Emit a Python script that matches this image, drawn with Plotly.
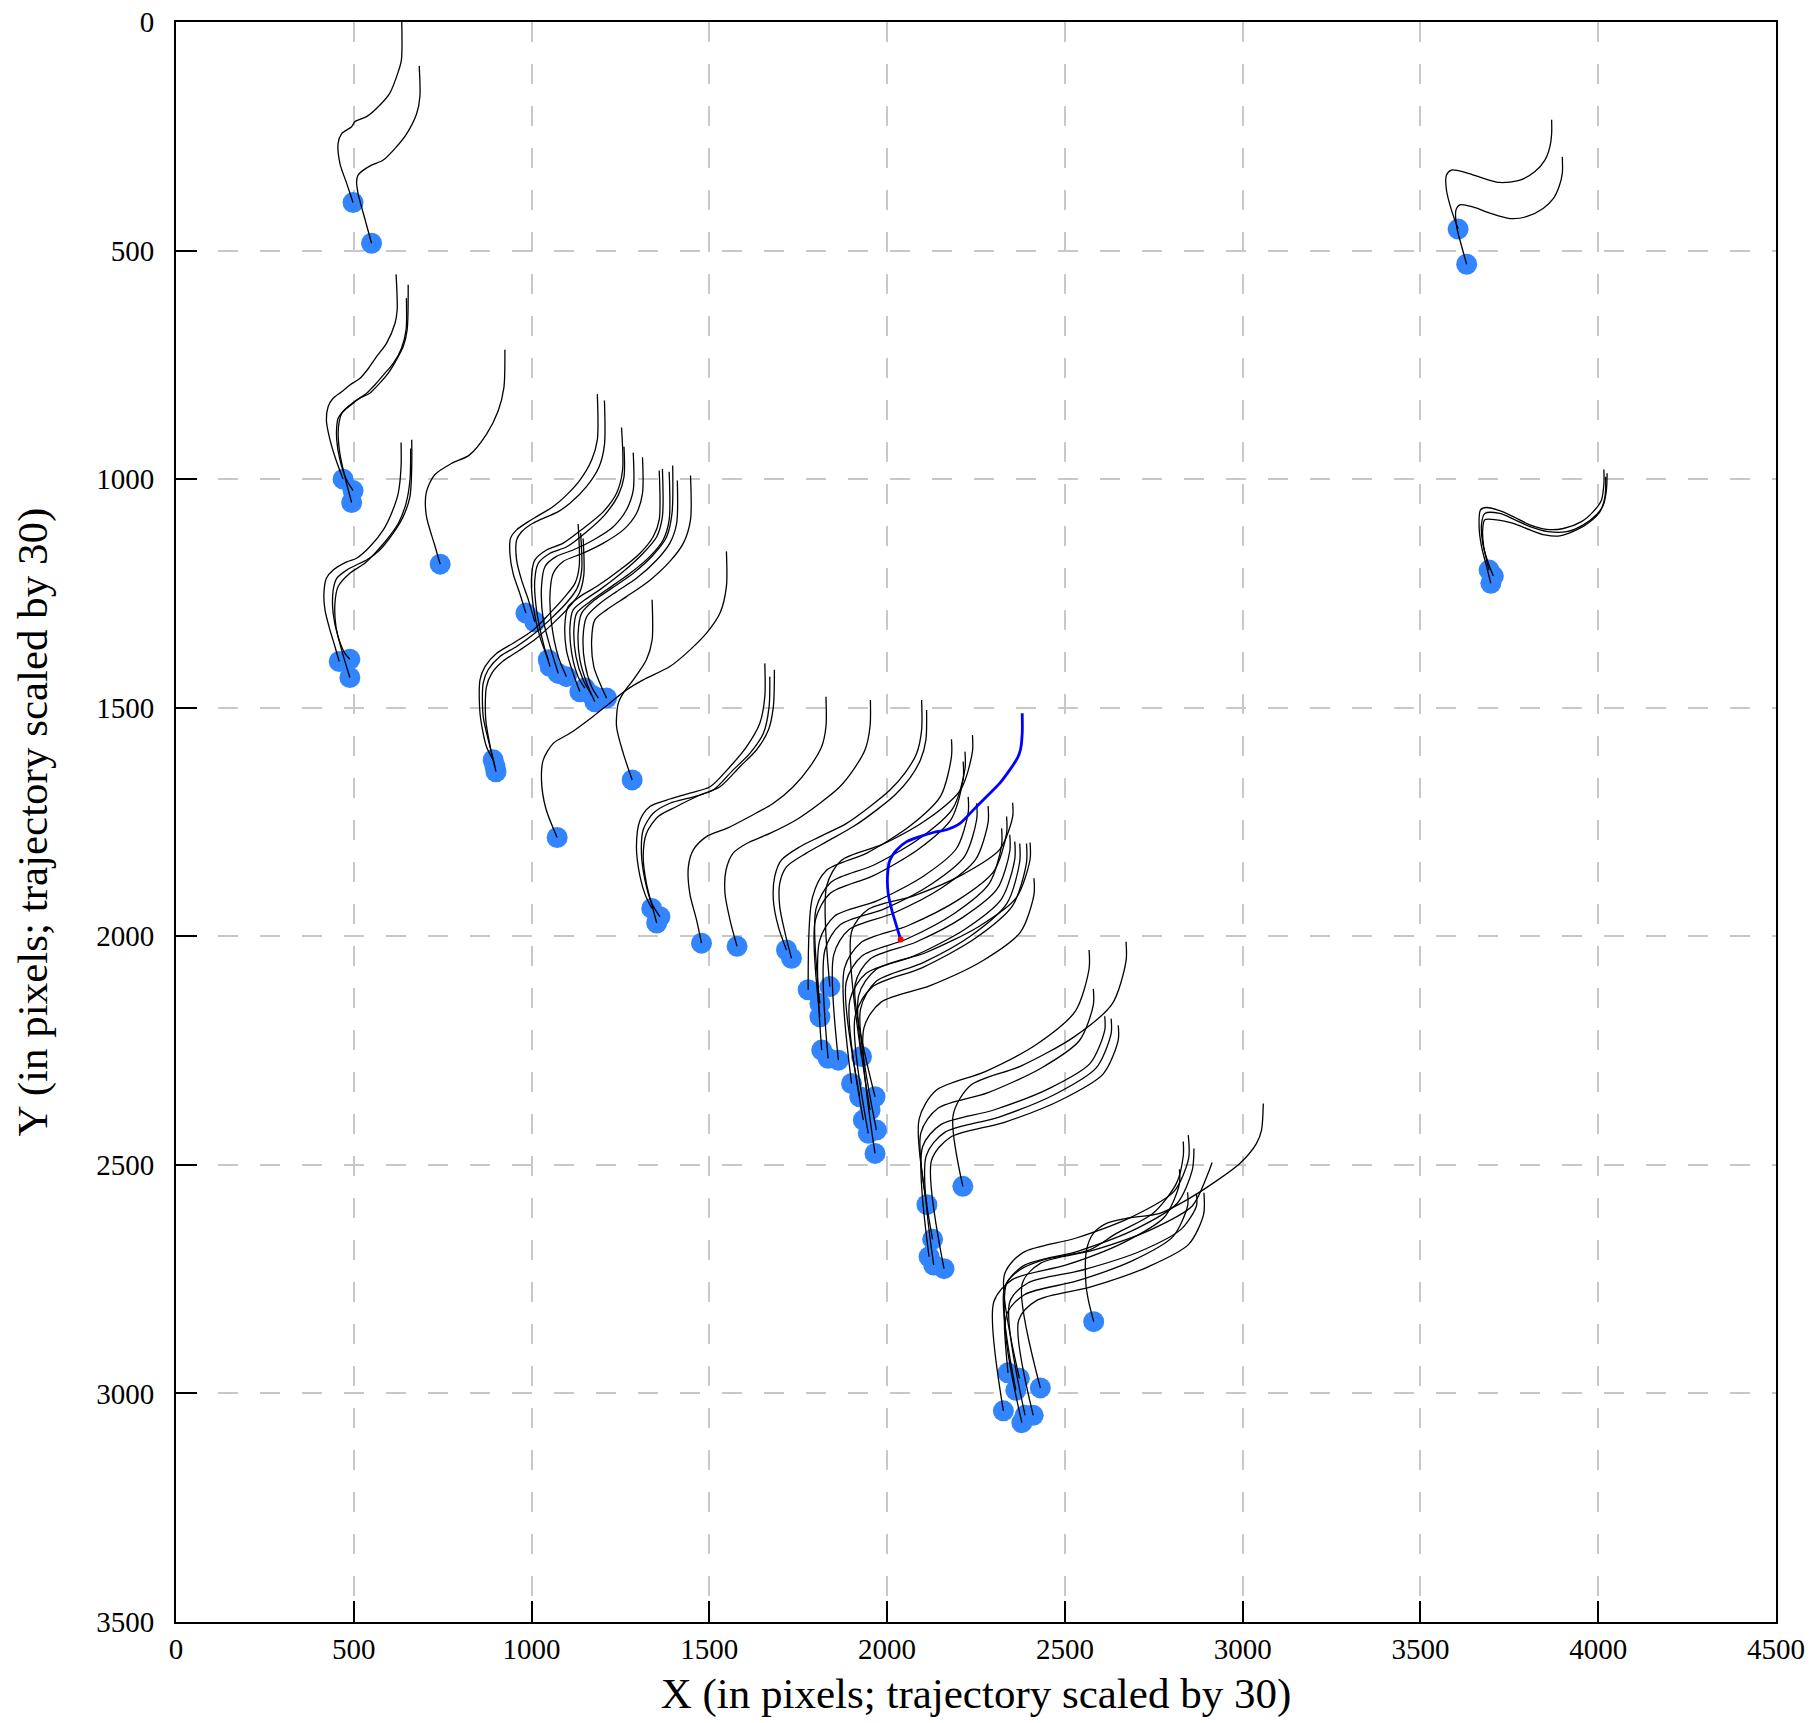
import plotly.graph_objects as go

X_TICKS = [0, 500, 1000, 1500, 2000, 2500, 3000, 3500, 4000, 4500]
Y_TICKS = [0, 500, 1000, 1500, 2000, 2500, 3000, 3500]
X_TITLE = "X (in pixels; trajectory scaled by 30)"
Y_TITLE = "Y (in pixels; trajectory scaled by 30)"

# Each trajectory is a list of (x, y) points; the last point is where the agent stands (blue dot)
CLUSTER_A = [
    [(634, -30), (634, 83), (625, 109), (601, 156), (573, 182), (536, 207), (503, 218), (494, 229),
     (466, 244), (456, 265), (461, 309), (480, 353), (498, 395)],
    [(684, 96), (686, 163), (677, 200), (649, 244), (620, 273), (583, 302), (550, 313), (527, 324),
     (512, 335), (508, 349), (512, 375), (527, 419), (550, 484)],
]
CLUSTER_B = [
    [(619, 552), (622, 630), (616, 659), (592, 703), (564, 732), (541, 758), (517, 780), (489, 794),
     (466, 809), (442, 823), (428, 841), (423, 871), (431, 907), (447, 951), (470, 1000)],
    [(653, 575), (650, 674), (639, 710), (620, 739), (597, 768), (573, 790), (545, 812), (517, 823),
     (498, 834), (470, 852), (456, 867), (452, 885), (452, 914), (461, 958), (480, 1002), (498, 1025)],
    [(648, 604), (647, 674), (634, 714), (611, 747), (588, 768), (559, 794), (536, 812), (508, 827),
     (484, 841), (466, 856), (459, 874), (456, 900), (461, 944), (475, 995), (494, 1051)],
]
CLUSTER_C = [
    [(633, 920), (633, 973), (625, 1031), (606, 1075), (583, 1111), (545, 1148), (508, 1173), (480, 1181),
     (442, 1199), (423, 1217), (416, 1250), (419, 1286), (433, 1330), (447, 1366), (459, 1399)],
    [(663, 914), (663, 973), (658, 1038), (639, 1082), (611, 1118), (573, 1155), (536, 1177), (517, 1184),
     (480, 1199), (452, 1217), (442, 1243), (442, 1294), (456, 1345), (475, 1381), (489, 1394)],
    [(660, 933), (658, 1002), (647, 1053), (625, 1097), (588, 1137), (550, 1170), (531, 1184), (489, 1206),
     (456, 1235), (447, 1272), (450, 1323), (466, 1374), (489, 1434)],
]
CLUSTER_D = [
    [(925, 717), (922, 801), (906, 851), (873, 902), (824, 948), (776, 965), (727, 991), (704, 1029),
     (704, 1080), (727, 1143), (743, 1186)],
]
CLUSTER_E = [
    [(3869, 214), (3869, 244), (3864, 273), (3850, 302), (3822, 327), (3780, 346), (3723, 351), (3677, 342),
     (3630, 330), (3587, 324), (3573, 335), (3573, 367), (3587, 411), (3606, 453)],
    [(3899, 295), (3899, 331), (3890, 360), (3874, 386), (3845, 408), (3798, 426), (3752, 430), (3695, 418),
     (3649, 405), (3611, 400), (3600, 411), (3602, 448), (3616, 491), (3630, 530)],
]
CLUSTER_F = [
    [(4016, 979), (4016, 1009), (4009, 1046), (3986, 1071), (3953, 1093), (3902, 1108), (3855, 1110),
     (3808, 1100), (3761, 1082), (3723, 1069), (3686, 1062), (3669, 1067), (3665, 1104), (3672, 1148),
     (3686, 1191), (3698, 1228)],
    [(4025, 987), (4023, 1024), (4014, 1057), (3995, 1078), (3958, 1100), (3911, 1115), (3859, 1115),
     (3808, 1104), (3766, 1089), (3723, 1075), (3681, 1075), (3672, 1097), (3675, 1140), (3691, 1184),
     (3705, 1212)],
    [(4021, 995), (4019, 1038), (4005, 1071), (3977, 1093), (3939, 1111), (3892, 1124), (3850, 1122),
     (3808, 1111), (3761, 1097), (3714, 1089), (3681, 1089), (3675, 1111), (3678, 1148), (3686, 1177),
     (3693, 1199)],
]
CLUSTER_G = [
    [(1185, 814), (1185, 914), (1169, 958), (1136, 1002), (1098, 1035), (1061, 1060), (1014, 1082),
     (991, 1093), (958, 1111), (941, 1129), (939, 1162), (948, 1206), (967, 1250), (984, 1293)],
    [(1205, 828), (1205, 925), (1190, 973), (1155, 1016), (1108, 1053), (1075, 1071), (1023, 1089),
     (1000, 1098), (972, 1115), (958, 1133), (958, 1177), (972, 1221), (991, 1264), (1009, 1312)],
    [(1253, 887), (1256, 980), (1239, 1031), (1202, 1071), (1145, 1108), (1089, 1140), (1042, 1155),
     (1009, 1177), (1000, 1213), (1005, 1279), (1023, 1344), (1047, 1395)],
    [(1260, 929), (1260, 995), (1244, 1035), (1206, 1078), (1155, 1115), (1099, 1148), (1052, 1162),
     (1019, 1184), (1009, 1221), (1014, 1286), (1033, 1359), (1052, 1410)],
    [(1286, 942), (1286, 1024), (1267, 1067), (1230, 1104), (1174, 1133), (1117, 1155), (1070, 1169),
     (1038, 1191), (1028, 1235), (1033, 1308), (1052, 1366), (1075, 1425)],
    [(1312, 952), (1312, 1031), (1295, 1075), (1258, 1111), (1202, 1140), (1145, 1162), (1089, 1180),
     (1061, 1206), (1052, 1250), (1056, 1315), (1075, 1388), (1098, 1432)],
    [(1359, 981), (1359, 1089), (1342, 1126), (1305, 1162), (1248, 1199), (1183, 1235), (1136, 1257),
     (1103, 1279), (1094, 1315), (1098, 1374), (1117, 1425), (1136, 1465)],
    [(1368, 978), (1368, 1082), (1352, 1126), (1314, 1162), (1258, 1202), (1197, 1239), (1150, 1264),
     (1117, 1286), (1108, 1323), (1113, 1381), (1131, 1432), (1150, 1457)],
    [(1387, 984), (1387, 1089), (1370, 1133), (1333, 1169), (1277, 1206), (1211, 1242), (1164, 1268),
     (1127, 1293), (1119, 1330), (1125, 1388), (1145, 1439), (1169, 1472)],
    [(1397, 970), (1395, 1075), (1380, 1126), (1342, 1166), (1286, 1206), (1225, 1239), (1178, 1264),
     (1141, 1293), (1131, 1337), (1136, 1395), (1155, 1446), (1178, 1487)],
    [(1410, 1003), (1408, 1097), (1389, 1140), (1352, 1177), (1295, 1217), (1239, 1246), (1192, 1272),
     (1155, 1301), (1145, 1344), (1150, 1403), (1169, 1454), (1188, 1479)],
    [(1447, 992), (1447, 1089), (1427, 1140), (1389, 1180), (1333, 1221), (1267, 1257), (1211, 1286),
     (1178, 1308), (1169, 1352), (1175, 1410), (1192, 1446), (1211, 1479)],
]
CLUSTER_H = [
    [(1131, 1098), (1134, 1191), (1122, 1228), (1094, 1257), (1052, 1293), (1005, 1330), (948, 1359),
     (902, 1381), (869, 1410), (855, 1439), (855, 1512), (873, 1585), (892, 1614)],
    [(1138, 1118), (1141, 1199), (1128, 1239), (1098, 1271), (1056, 1304), (1009, 1337), (958, 1366),
     (911, 1388), (878, 1417), (864, 1446), (864, 1519), (883, 1585), (900, 1640)],
    [(1145, 1130), (1147, 1210), (1134, 1250), (1103, 1282), (1061, 1315), (1014, 1348), (965, 1375),
     (920, 1398), (888, 1425), (873, 1455), (871, 1525), (885, 1590), (897, 1628)],
]
CLUSTER_I = [
    [(1339, 1264), (1339, 1352), (1323, 1395), (1286, 1439), (1258, 1468), (1244, 1490), (1239, 1541),
     (1258, 1600), (1283, 1658)],
]
CLUSTER_K = [
    [(1548, 1158), (1548, 1235), (1530, 1293), (1492, 1337), (1445, 1374), (1389, 1410), (1314, 1439),
     (1267, 1461), (1220, 1490), (1173, 1519), (1108, 1556), (1061, 1578), (1033, 1614), (1028, 1660),
     (1040, 1720), (1072, 1784)],
]
CLUSTER_L = [
    [(1656, 1403), (1656, 1476), (1642, 1534), (1605, 1585), (1558, 1629), (1502, 1673), (1445, 1687),
     (1380, 1702), (1333, 1716), (1305, 1746), (1295, 1804), (1305, 1869), (1320, 1910), (1338, 1939)],
    [(1670, 1432), (1668, 1498), (1652, 1556), (1614, 1600), (1567, 1636), (1511, 1680), (1455, 1695),
     (1389, 1709), (1342, 1731), (1314, 1767), (1309, 1818), (1319, 1877), (1338, 1928), (1361, 1957)],
    [(1683, 1417), (1680, 1498), (1666, 1549), (1633, 1592), (1586, 1629), (1530, 1673), (1474, 1691),
     (1408, 1716), (1356, 1738), (1323, 1775), (1314, 1826), (1323, 1884), (1342, 1942), (1352, 1971)],
]
CLUSTER_M = [
    [(1828, 1476), (1828, 1541), (1816, 1585), (1783, 1629), (1736, 1673), (1680, 1709), (1614, 1738),
     (1549, 1764), (1492, 1782), (1455, 1811), (1441, 1848), (1445, 1906), (1464, 1964), (1478, 2015)],
]
CLUSTER_N = [
    [(1953, 1483), (1952, 1541), (1938, 1592), (1905, 1636), (1867, 1673), (1811, 1709), (1745, 1745),
     (1670, 1775), (1605, 1797), (1567, 1818), (1547, 1855), (1544, 1906), (1558, 1964), (1578, 2022)],
]
CLUSTER_O = [
    [(2097, 1483), (2097, 1549), (2083, 1600), (2050, 1643), (2008, 1680), (1952, 1716), (1886, 1753),
     (1811, 1782), (1755, 1804), (1703, 1833), (1684, 1869), (1680, 1920), (1694, 1979), (1717, 2030)],
    [(2111, 1505), (2109, 1571), (2094, 1614), (2064, 1654), (2022, 1691), (1970, 1724), (1905, 1760),
     (1830, 1793), (1773, 1818), (1717, 1848), (1698, 1884), (1698, 1935), (1713, 1993), (1731, 2048)],
]
CLUSTER_P = [
    [(2181, 1569), (2181, 1607), (2150, 1694), (2064, 1759), (1943, 1818), (1829, 1856), (1790, 1915), (1778, 2117)],
    [(2240, 1560), (2240, 1596), (2207, 1679), (2117, 1742), (1990, 1798), (1871, 1834), (1830, 1890), (1839, 2110)],
    [(2219, 1596), (2219, 1634), (2185, 1720), (2093, 1785), (1963, 1844), (1842, 1882), (1800, 1940), (1811, 2147)],
    [(2214, 1618), (2214, 1656), (2181, 1743), (2089, 1809), (1960, 1868), (1840, 1906), (1798, 1965), (1811, 2176)],
    [(2228, 1695), (2228, 1730), (2195, 1808), (2103, 1868), (1973, 1922), (1852, 1956), (1810, 2010), (1816, 2249)],
    [(2353, 1708), (2353, 1739), (2317, 1810), (2217, 1863), (2077, 1911), (1945, 1942), (1900, 1990), (1928, 2263)],
    [(2252, 1709), (2252, 1744), (2218, 1825), (2124, 1886), (1992, 1940), (1868, 1975), (1825, 2030), (1834, 2267)],
    [(2284, 1715), (2284, 1751), (2249, 1832), (2154, 1894), (2019, 1949), (1893, 1985), (1850, 2040), (1863, 2271)],
    [(2336, 1738), (2336, 1775), (2300, 1858), (2199, 1921), (2058, 1977), (1926, 2014), (1880, 2070), (1900, 2322)],
    [(2322, 1764), (2322, 1801), (2287, 1885), (2191, 1949), (2055, 2006), (1929, 2043), (1885, 2100), (1923, 2351)],
    [(2345, 1778), (2345, 1814), (2310, 1896), (2214, 1958), (2080, 2013), (1953, 2049), (1910, 2105), (1966, 2351)],
    [(2402, 1795), (2402, 1832), (2363, 1916), (2257, 1979), (2108, 2036), (1968, 2073), (1920, 2130), (1952, 2380)],
    [(2359, 1793), (2359, 1831), (2322, 1918), (2220, 1984), (2076, 2043), (1941, 2081), (1895, 2140), (1933, 2402)],
    [(2373, 1797), (2373, 1837), (2337, 1928), (2239, 1997), (2100, 2058), (1970, 2098), (1925, 2160), (1970, 2424)],
    [(2392, 1797), (2392, 1839), (2353, 1933), (2247, 2005), (2098, 2069), (1958, 2111), (1910, 2175), (1947, 2431)],
    [(2413, 1873), (2413, 1909), (2375, 1991), (2270, 2053), (2121, 2108), (1983, 2144), (1935, 2200), (1966, 2475)],
]
CLUSTER_Q = [
    [(2568, 2030), (2568, 2071), (2530, 2163), (2425, 2234), (2276, 2296), (2138, 2337), (2090, 2400), (2112, 2587)],
    [(2580, 2115), (2580, 2150), (2541, 2228), (2434, 2288), (2284, 2342), (2143, 2376), (2095, 2430), (2128, 2663)],
    [(2612, 2175), (2612, 2206), (2571, 2278), (2458, 2332), (2300, 2380), (2151, 2412), (2100, 2460), (2118, 2701)],
    [(2630, 2180), (2630, 2213), (2588, 2288), (2474, 2345), (2313, 2396), (2162, 2429), (2110, 2480), (2131, 2719)],
    [(2650, 2195), (2650, 2227), (2608, 2301), (2492, 2357), (2330, 2407), (2177, 2440), (2125, 2490), (2160, 2727)],
    [(2672, 2012), (2672, 2054), (2633, 2148), (2526, 2220), (2376, 2284), (2235, 2326), (2186, 2390), (2213, 2547)],
]
CLUSTER_R = [
    [(2833, 2449), (2833, 2480), (2814, 2540), (2748, 2606), (2645, 2650), (2570, 2686), (2439, 2708),
     (2373, 2730), (2336, 2759), (2330, 2850), (2340, 2955)],
    [(2847, 2435), (2848, 2486), (2807, 2558), (2693, 2612), (2532, 2660), (2382, 2692), (2330, 2740), (2372, 2967)],
    [(2863, 2464), (2858, 2512), (2816, 2584), (2700, 2640), (2536, 2689), (2383, 2721), (2330, 2770), (2362, 2993)],
    [(2822, 2510), (2822, 2542), (2780, 2614), (2665, 2670), (2504, 2719), (2352, 2751), (2300, 2800), (2327, 3038)],
    [(2914, 2495), (2900, 2524), (2858, 2590), (2744, 2641), (2583, 2686), (2432, 2715), (2380, 2760), (2431, 2988)],
    [(2870, 2564), (2870, 2590), (2828, 2640), (2712, 2689), (2550, 2730), (2397, 2758), (2345, 2800), (2388, 3048)],
    [(2845, 2560), (2845, 2590), (2804, 2657), (2692, 2709), (2534, 2754), (2386, 2784), (2335, 2830), (2379, 3064)],
    [(2891, 2561), (2890, 2609), (2848, 2674), (2734, 2723), (2573, 2767), (2422, 2796), (2370, 2840), (2411, 3048)],
    [(3058, 2366), (3053, 2424), (3039, 2453), (2992, 2497), (2917, 2540), (2842, 2577), (2767, 2606),
     (2673, 2617), (2617, 2628), (2580, 2650), (2561, 2686), (2559, 2759), (2566, 2796), (2581, 2843)],
]

# Highlighted trajectory (blue) ending at the red point
BLUE_X = [2380, 2380, 2375, 2366, 2345, 2317, 2280, 2242, 2205, 2167, 2130, 2092, 2055, 2027, 2008,
          2001, 2003, 2013, 2027, 2038]
BLUE_Y = [1512, 1556, 1592, 1611, 1636, 1665, 1694, 1724, 1753, 1767, 1773, 1782, 1793, 1811, 1833,
          1869, 1906, 1942, 1979, 2007]

CLUSTERS = [CLUSTER_A, CLUSTER_B, CLUSTER_C, CLUSTER_D, CLUSTER_E, CLUSTER_F, CLUSTER_G, CLUSTER_H,
            CLUSTER_I, CLUSTER_K, CLUSTER_L, CLUSTER_M, CLUSTER_N, CLUSTER_O, CLUSTER_P, CLUSTER_Q, CLUSTER_R]

line_x, line_y, dot_x, dot_y = [], [], [], []
for cluster in CLUSTERS:
    for traj in cluster:
        for x, y in traj:
            line_x.append(x)
            line_y.append(y)
        line_x.append(None)
        line_y.append(None)
        dot_x.append(traj[-1][0])
        dot_y.append(traj[-1][1])

fig = go.Figure()
fig.add_trace(go.Scatter(x=dot_x, y=dot_y, mode="markers",
                         marker=dict(size=21, color="#3385FF", line=dict(width=0)),
                         hoverinfo="skip"))
fig.add_trace(go.Scatter(x=line_x, y=line_y, mode="lines",
                         line=dict(color="black", width=1.3, shape="spline", smoothing=0.8),
                         connectgaps=False, hoverinfo="skip"))
fig.add_trace(go.Scatter(x=BLUE_X, y=BLUE_Y, mode="lines",
                         line=dict(color="#0000FF", width=2.8, shape="spline", smoothing=0.8)))
fig.add_trace(go.Scatter(x=[BLUE_X[-1]], y=[BLUE_Y[-1]], mode="markers",
                         marker=dict(size=6, color="red", line=dict(width=0))))

axis_common = dict(
    ticks="inside", ticklen=21, tickwidth=2, tickcolor="black",
    showline=True, linecolor="black", linewidth=2, mirror=True,
    showgrid=True, gridcolor="#c8c8c8", gridwidth=2, griddash="20px,22px",
    zeroline=False, tickfont=dict(size=29, family="Liberation Serif", color="black"),
    ticklabeloverflow="allow",
)
fig.update_xaxes(range=[0, 4500], tickvals=X_TICKS, ticktext=[str(v) for v in X_TICKS],
                 title=dict(text=X_TITLE, font=dict(size=43, family="Liberation Serif", color="black"), standoff=14),
                 **axis_common)
fig.update_yaxes(range=[3500, 0], tickvals=Y_TICKS, ticktext=[str(v) for v in Y_TICKS],
                 ticklabelstandoff=14,
                 title=dict(text=Y_TITLE, font=dict(size=43, family="Liberation Serif", color="black"), standoff=35),
                 **axis_common)
fig.update_layout(width=1817, height=1723, margin=dict(l=176, r=41, t=22, b=101, autoexpand=False),
                  plot_bgcolor="white", paper_bgcolor="white", showlegend=False,
                  font=dict(family="Liberation Serif", color="black"))
fig.write_html("out.html", config={"displayModeBar": False},
               post_script="document.body.style.margin='0';")
